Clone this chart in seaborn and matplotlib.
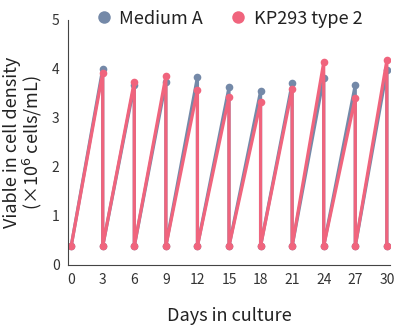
import matplotlib
matplotlib.use("Agg")
import matplotlib.pyplot as plt
import seaborn as sns
import pandas as pd

days = [0, 3, 6, 9, 12, 15, 18, 21, 24, 27, 30]
seed_density = 0.38
medium_a_peaks = [4.00, 3.67, 3.73, 3.83, 3.62, 3.54, 3.70, 3.82, 3.67, 3.97]
kp293_peaks = [3.92, 3.74, 3.85, 3.57, 3.43, 3.32, 3.59, 4.13, 3.41, 4.17]
series_names = ["Medium A", "KP293 type 2"]
colors = ["#7489a8", "#f0647d"]
x_ticks = days
y_ticks = [0, 1, 2, 3, 4, 5]


def sawtooth(name, peaks):
    xs, ys = [days[0]], [seed_density]
    for d, p in zip(days[1:], peaks):
        xs += [d, d]
        ys += [p, seed_density]
    return pd.DataFrame({"day": xs, "density": ys})


sns.set_theme(style="white")
plt.rcParams["font.family"] = ["Noto Sans CJK JP", "DejaVu Sans"]

fig = plt.figure(figsize=(4.0, 3.29), dpi=100)
ax = fig.add_axes([0.17, 0.195, 0.805, 0.745])

for name, peaks, c in zip(series_names, [medium_a_peaks, kp293_peaks], colors):
    d = sawtooth(name, peaks)
    sns.lineplot(data=d, x="day", y="density", color=c, sort=False,
                 estimator=None, marker="o", markersize=5.5,
                 markeredgewidth=0, linewidth=2.3, ax=ax)

ax.set_xlim(-0.3, 30.3)
ax.set_ylim(0, 5)
ax.set_xticks(x_ticks)
ax.set_yticks(y_ticks)
ax.tick_params(axis="both", length=0, labelsize=10, colors="#333333", pad=6)
for s in ["top", "right"]:
    ax.spines[s].set_visible(False)
for s in ["left", "bottom"]:
    ax.spines[s].set_color("#444444")
    ax.spines[s].set_linewidth(0.8)

ax.set_xlabel("Days in culture", fontsize=13, color="#222222", labelpad=14)
ax.set_ylabel("Viable in cell density\n(×10$^{6}$ cells/mL)", fontsize=13,
              color="#222222", linespacing=0.95, labelpad=6)

handles = [plt.Line2D([], [], marker="o", linestyle="", markersize=9,
                      color=c, markeredgewidth=0) for c in colors]
leg = fig.legend(handles, series_names, loc="upper center", ncol=2,
                 bbox_to_anchor=(0.575, 1.02), frameon=False, fontsize=13,
                 handlelength=0.7, handletextpad=0.5, columnspacing=1.6)
for t in leg.get_texts():
    t.set_color("#222222")

fig.savefig("out.png", dpi=100)
